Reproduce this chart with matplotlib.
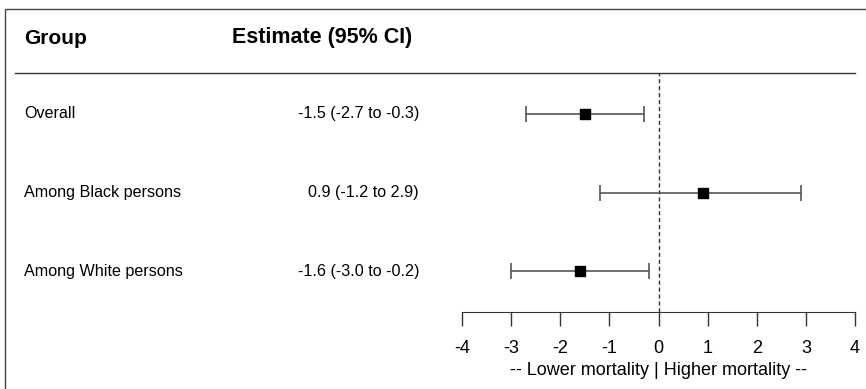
import matplotlib.pyplot as plt
from matplotlib.lines import Line2D
from matplotlib.patches import Rectangle
import matplotlib.transforms as mtransforms

plt.rcParams['font.family'] = ['Liberation Sans', 'DejaVu Sans']

groups = ["Overall", "Among Black persons", "Among White persons"]
estimates = [-1.5, 0.9, -1.6]
lower = [-2.7, -1.2, -3.0]
upper = [-0.3, 2.9, -0.2]
est_labels = ["-1.5 (-2.7 to -0.3)", "0.9 (-1.2 to 2.9)", "-1.6 (-3.0 to -0.2)"]
xticks = [-4, -3, -2, -1, 0, 1, 2, 3, 4]

W, H = 866, 389
fig = plt.figure(figsize=(W / 100, H / 100), dpi=100)

# forest axes
ax = fig.add_axes([462 / W, 1 - 312 / H, (855 - 462) / W, (312 - 73) / H])
ypos = [3, 2, 1]
ax.set_xlim(-4, 4)
ax.set_ylim(0.48, 3.52)

ax.axvline(0, color='#333333', linestyle=(0, (3, 2)), linewidth=1.0)
for y, e, lo, hi in zip(ypos, estimates, lower, upper):
    ax.errorbar(e, y, xerr=[[e - lo], [hi - e]], fmt='none', ecolor='#555555',
                elinewidth=1.2, capsize=6, capthick=1.2)
ax.scatter(estimates, ypos, marker='s', s=55, color='black', zorder=3)

for s in ['top', 'right', 'left']:
    ax.spines[s].set_visible(False)
ax.spines['bottom'].set_color('#333333')
ax.set_yticks([])
ax.set_xticks(xticks)
ax.set_xticklabels([str(t) for t in xticks])
ax.tick_params(axis='x', length=10, width=1, color='#333333', labelsize=13, pad=10)
ax.set_xlabel("-- Lower mortality | Higher mortality --", fontsize=13, labelpad=4)

# table columns
trans = mtransforms.blended_transform_factory(fig.transFigure, ax.transData)
for y, g, lab in zip(ypos, groups, est_labels):
    ax.text(24 / W, y, g, transform=trans, ha='left', va='center', fontsize=11.6)
    ax.text(419 / W, y, lab, transform=trans, ha='right', va='center', fontsize=11.6)

fig.text(24 / W, 1 - 38 / H, "Group", fontsize=15, fontweight='bold', va='center')
fig.text(232 / W, 1 - 38 / H, "Estimate (95% CI)", fontsize=15.5, fontweight='bold', va='center')

fig.add_artist(Line2D([15 / W, 855 / W], [1 - 73 / H, 1 - 73 / H], color='#333333', linewidth=1.0))
fig.add_artist(Rectangle((5 / W, -0.05), 1.0, 1 - 9 / H + 0.05, fill=False,
                         edgecolor='#444444', linewidth=1.0))

fig.savefig("out.png", dpi=100)
